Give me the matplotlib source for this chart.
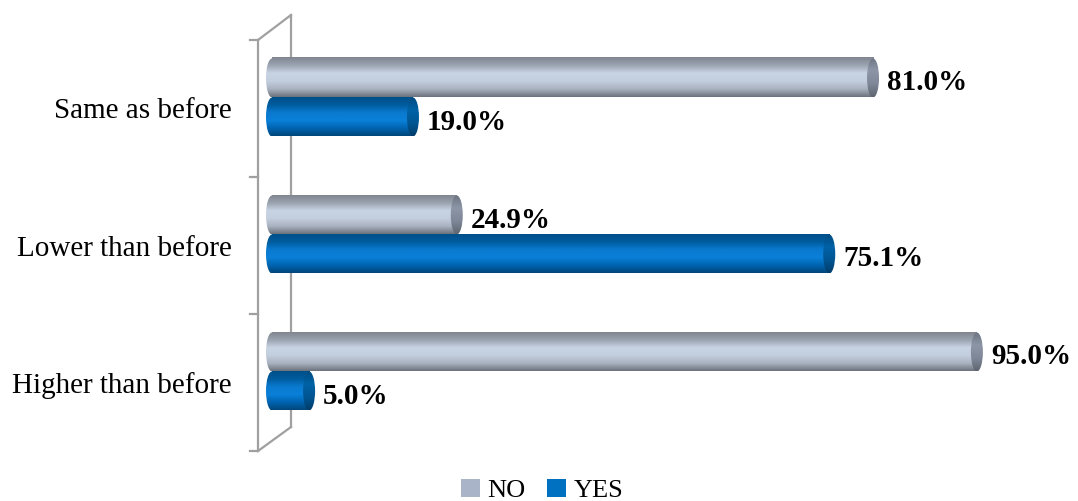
import numpy as np
import matplotlib
matplotlib.use("Agg")
import matplotlib.pyplot as plt
from matplotlib.patches import Ellipse, Patch
from matplotlib.colors import LinearSegmentedColormap

# --- data ---
categories = ["Higher than before", "Lower than before", "Same as before"]
no_values = [95.0, 24.9, 81.0]
yes_values = [5.0, 75.1, 19.0]
series_names = ["NO", "YES"]

plt.rcParams["font.family"] = ["Liberation Serif", "DejaVu Serif"]

W, H = 1078, 501
fig = plt.figure(figsize=(W / 100, H / 100), dpi=100)
# x: 0 -> pixel 272, 7.42 px per %, axes starts at -5
X0_PX, PX_PER = 272, 7.42
XMIN, XMAX = -5, 100
left_px = X0_PX + XMIN * PX_PER
ax = fig.add_axes([left_px / W, (H - 451) / H, (XMAX - XMIN) * PX_PER / W, 411 / H])
ax.set_xlim(XMIN, XMAX)
ax.set_ylim(-0.5, 2.5)
for s in ax.spines.values():
    s.set_visible(False)
ax.set_xticks([])

px_x = 1 / PX_PER         # data units per pixel (x)
px_y = 3 / 411            # data units per pixel (y)

gray_body = LinearSegmentedColormap.from_list(
    "g", ["#6c727c", "#a9b2c0", "#c3cede", "#c8d3e3", "#9aa3b0", "#80868f"])
gray_cap = LinearSegmentedColormap.from_list(
    "gc", ["#5e6570", "#7e8898", "#8c96a6", "#6c7482"])
blue_body = LinearSegmentedColormap.from_list(
    "b", ["#004679", "#0064b0", "#0a80d8", "#0a7ad0", "#005c9e", "#00508a"])
blue_cap = LinearSegmentedColormap.from_list(
    "bc", ["#003d6b", "#005592", "#0062a6", "#004a80"])

bar_h = 39 * px_y
depth = 11 * px_y
cap_w = 12 * px_x
grad = np.linspace(0, 1, 256).reshape(-1, 1)


def cylinder(v, yc, body, cap):
    y0, y1 = yc - bar_h / 2, yc + bar_h / 2
    # left rounded end
    le = Ellipse((0, yc), cap_w, bar_h, transform=ax.transData, facecolor="none",
                 edgecolor="none")
    ax.add_patch(le)
    im = ax.imshow(grad, cmap=body, extent=[-cap_w, cap_w, y0, y1], aspect="auto",
                   origin="lower", zorder=3)
    im.set_clip_path(le)
    # body
    ax.imshow(grad, cmap=body, extent=[0, v, y0, y1], aspect="auto",
              origin="lower", zorder=3)
    # right end cap
    re = Ellipse((v, yc), cap_w, bar_h, transform=ax.transData, facecolor="none",
                 edgecolor="none")
    ax.add_patch(re)
    im2 = ax.imshow(grad, cmap=cap, extent=[v - cap_w, v + cap_w, y0, y1],
                    aspect="auto", origin="lower", zorder=4)
    im2.set_clip_path(re)


pos = np.arange(len(categories))
for i, c in enumerate(pos):
    y_no = c + depth + bar_h / 2
    y_yes = c + depth - bar_h / 2
    cylinder(no_values[i], y_no, gray_body, gray_cap)
    cylinder(yes_values[i], y_yes, blue_body, blue_cap)
    for v, yy in ((no_values[i], y_no), (yes_values[i], y_yes)):
        ax.text(v + cap_w / 2 + 8 * px_x, yy - 5 * px_y, f"{v:.1f}%",
                ha="left", va="center", fontsize=21, fontweight="bold",
                color="black", zorder=5, clip_on=False)

ax.set_xlim(XMIN, XMAX)
ax.set_ylim(-0.5, 2.5)

# 3D wall frame
wall = "#a0a0a0"
xf = (258 - X0_PX) * px_x
xb = (291 - X0_PX) * px_x
lw = 1.6
ax.plot([xf, xf], [-0.5, 2.5], color=wall, lw=lw, clip_on=False, zorder=1)
ax.plot([xb, xb], [-0.5 + 24 * px_y, 2.5 + 25 * px_y], color=wall, lw=lw,
        clip_on=False, zorder=1)
ax.plot([xf, xb], [2.5, 2.5 + 25 * px_y], color=wall, lw=lw, clip_on=False, zorder=1)
ax.plot([xf, xb], [-0.5, -0.5 + 24 * px_y], color=wall, lw=lw, clip_on=False, zorder=1)
for yb in [-0.5, 0.5, 1.5, 2.5]:
    ax.plot([xf - 8 * px_x, xf], [yb, yb], color=wall, lw=lw, clip_on=False, zorder=1)

ax.set_yticks(pos)
ax.set_yticklabels(categories, fontsize=21)
ax.tick_params(axis="y", length=0, pad=0)
for lab in ax.get_yticklabels():
    lab.set_x((232 - left_px) / ((XMAX - XMIN) * PX_PER))

handles = [Patch(facecolor="#a9b4c8", edgecolor="none"),
           Patch(facecolor="#0070c0", edgecolor="none")]
fig.legend(handles, series_names, loc="lower center", bbox_to_anchor=(0.503, -0.05),
           ncol=2, frameon=False, fontsize=19, handlelength=0.7, handleheight=0.7,
           handletextpad=0.3, columnspacing=0.8)

fig.savefig("out.png", dpi=100)
